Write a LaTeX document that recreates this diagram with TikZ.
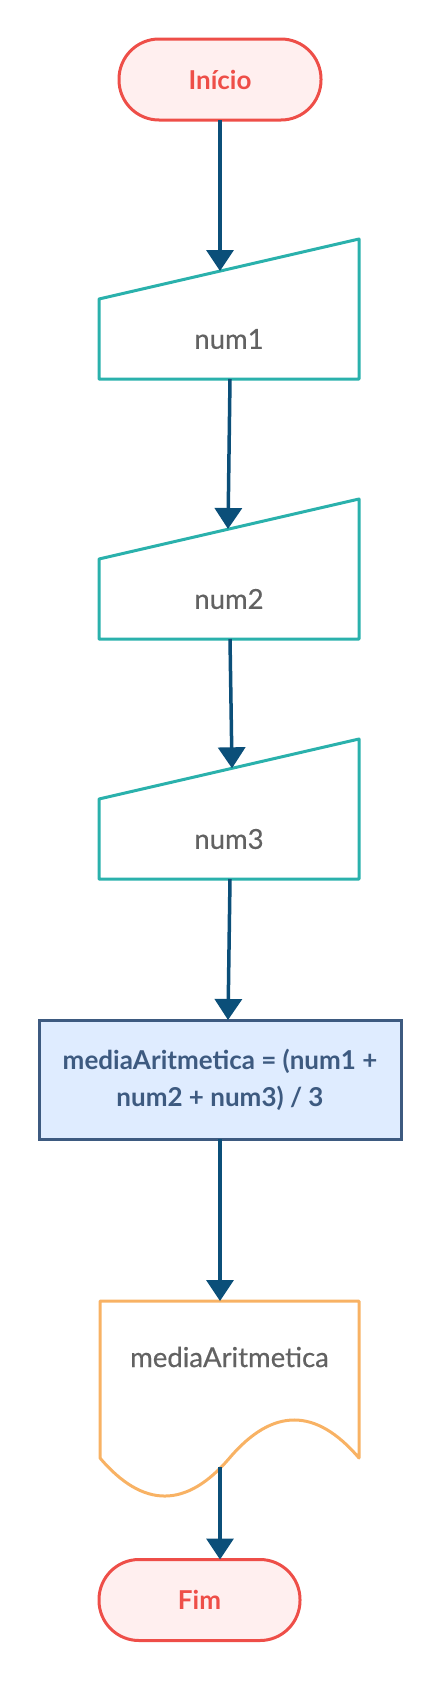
\documentclass[tikz,border=0pt]{standalone}
\usepackage{fontspec}
\setmainfont{Lato}
\newfontfamily\medfont{Lato}[FakeBold=0.5]
\usetikzlibrary{arrows.meta,calc}
\definecolor{termred}{HTML}{EE4E48}
\definecolor{termfill}{HTML}{FFEFEF}
\definecolor{inteal}{HTML}{2AB1AC}
\definecolor{procline}{HTML}{3D5A80}
\definecolor{procfill}{HTML}{DFECFF}
\definecolor{docorange}{HTML}{F8B264}
\definecolor{arrowblue}{HTML}{0B4F79}
\definecolor{txtgray}{HTML}{626262}
\begin{document}
\begin{tikzpicture}[x=1pt,y=-1pt,
  every node/.style={font=\fontsize{26}{31}\selectfont, inner sep=0pt, outer sep=0pt},
  term/.style={draw=termred, fill=termfill, line width=3pt, rounded corners=40pt,
    minimum height=81pt, text=termred, font=\fontsize{26}{31}\selectfont\bfseries},
  graytext/.style={text=txtgray, font=\medfont\fontsize{27.5}{33}\selectfont},
  inbody/.style={graytext, minimum width=260pt, minimum height=80pt},
  inshape/.style={draw=inteal, line width=3pt, line join=round},
  procbox/.style={draw=procline, fill=procfill, line width=3pt, minimum width=362pt,
    minimum height=119pt, text=procline, align=center,
    font=\fontsize{26}{37}\selectfont\bfseries},
  docshape/.style={draw=docorange, line width=3pt, line join=round},
  conn/.style={draw=arrowblue, line width=3.5pt, -{Triangle[width=27pt,length=21pt]}}
]
\useasboundingbox (0,0) rectangle (441,1681);

% terminator start
\node[term, minimum width=202pt] (start) at (220,79.5) {Início};

% manual inputs
\node[inbody] (n1) at (229,339) {num1};
\draw[inshape] (n1.south west) -- (n1.south east) -- ($(n1.north east)+(0,-60)$) -- (n1.north west) -- cycle;
\node[inbody] (n2) at (229,599) {num2};
\draw[inshape] (n2.south west) -- (n2.south east) -- ($(n2.north east)+(0,-60)$) -- (n2.north west) -- cycle;
\node[inbody] (n3) at (229,839) {num3};
\draw[inshape] (n3.south west) -- (n3.south east) -- ($(n3.north east)+(0,-60)$) -- (n3.north west) -- cycle;

% process
\node[procbox] (proc) at (220,1079.5) {mediaAritmetica = (num1 +\\num2 + num3) / 3};

% document output
\draw[docshape] (100,1301) -- (359,1301) -- (359,1458)
  .. controls (315.83,1407.3) and (272.67,1407.3) .. (229.5,1458)
  .. controls (186.33,1508.7) and (143.17,1508.7) .. (100,1458) -- cycle;
\node[graytext, minimum width=259pt, minimum height=112pt] (out) at (229.5,1357) {mediaAritmetica};
\coordinate (outb) at (220,1467);

% terminator end
\node[term, minimum width=201pt] (fim) at (199.5,1600) {Fim};

% connectors
\draw[conn] (start.south) -- ($(n1.north)+(-9,-28)$);
\draw[conn] ($(n1.south)+(1,0)$) -- ($(n2.north)+(-1,-30)$);
\draw[conn] ($(n2.south)+(1,0)$) -- ($(n3.north)+(3,-30.7)$);
\draw[conn] ($(n3.south)+(1,0)$) -- ($(proc.north)+(8,0)$);
\draw[conn] (proc.south) -- (out.north -| proc.south);
\draw[conn] (outb) -- (fim.north -| outb);
\end{tikzpicture}
\end{document}
